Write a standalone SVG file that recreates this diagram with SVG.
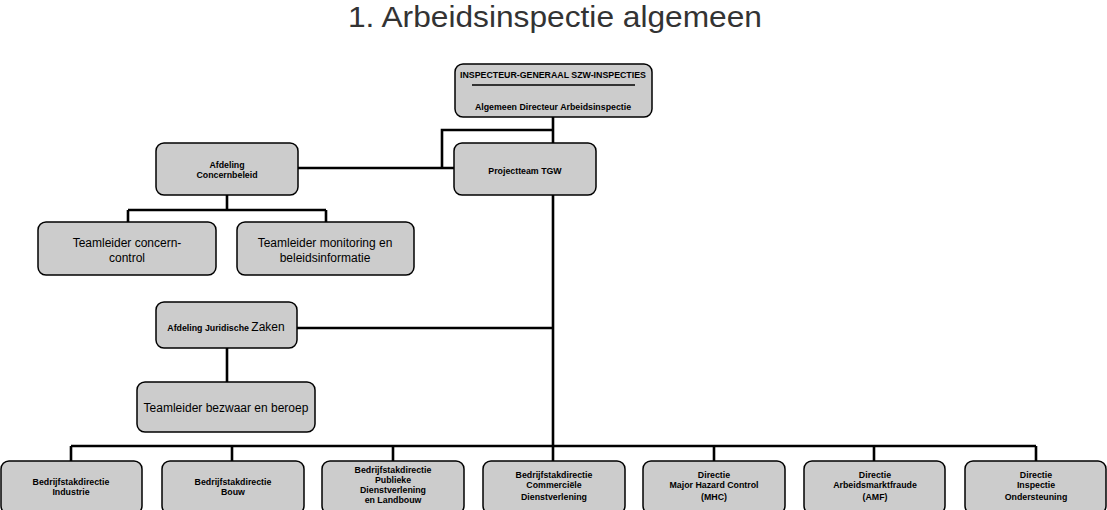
<svg xmlns="http://www.w3.org/2000/svg" width="1107" height="510" viewBox="0 0 1107 510">
<style>
.box{fill:#cccccc;stroke:#000;stroke-width:1.5}
.conn{fill:none;stroke:#000;stroke-width:2.6}
.s{font-family:"Liberation Sans",Arial,sans-serif;font-weight:bold;font-size:8.8px;fill:#000;text-anchor:middle}
.m{font-family:"Liberation Sans",Arial,sans-serif;font-size:12px;fill:#000;text-anchor:middle}
.title{font-family:"Liberation Sans",Arial,sans-serif;font-size:30px;fill:#333;text-anchor:middle}
</style>
<rect width="1107" height="510" fill="#fff"/>
<text class="title" x="555" y="27" textLength="414" lengthAdjust="spacingAndGlyphs">1. Arbeidsinspectie algemeen</text>
<g id="connectors">
<path class="conn" d="M553,117 V143 M553,130 H442 V168 M298,168 H454"/>
<path class="conn" d="M227,195 V210 M128,210 H326 M128,210 V222 M326,210 V222"/>
<path class="conn" d="M553,195 V446 M297,328 H553 M227,348 V382"/>
<path class="conn" d="M71,446 H1036 M71,446 V461 M232,446 V461 M393,446 V461 M553,446 V461 M714,446 V461 M874,446 V461 M1036,446 V461"/>
</g>
<g id="top">
<rect class="box" x="455" y="64" width="197" height="53" rx="8"/>
<text class="s" x="553" y="78">INSPECTEUR-GENERAAL SZW-INSPECTIES</text>
<line x1="472" y1="85" x2="635" y2="85" stroke="#000" stroke-width="1.5"/>
<text class="s" x="553" y="110">Algemeen Directeur Arbeidsinspectie</text>
</g>
<g id="concernbeleid">
<rect class="box" x="156" y="143" width="142" height="52" rx="8"/>
<text class="s" x="227" y="168">Afdeling</text>
<text class="s" x="227" y="178">Concernbeleid</text>
</g>
<g id="projectteam">
<rect class="box" x="454" y="143" width="142" height="52" rx="8"/>
<text class="s" x="525" y="174">Projectteam TGW</text>
</g>
<g id="tl-concern">
<rect class="box" x="38" y="222" width="178" height="53" rx="8"/>
<text class="m" x="127" y="247">Teamleider concern-</text>
<text class="m" x="127" y="262">control</text>
</g>
<g id="tl-monitoring">
<rect class="box" x="237" y="222" width="177" height="53" rx="8"/>
<text class="m" x="325" y="247">Teamleider monitoring en</text>
<text class="m" x="325" y="262">beleidsinformatie</text>
</g>
<g id="juridisch">
<rect class="box" x="156" y="302" width="141" height="46" rx="8"/>
<text class="s" x="226" y="331">Afdeling Juridische <tspan style="font-weight:normal;font-size:12px">Zaken</tspan></text>
</g>
<g id="tl-bezwaar">
<rect class="box" x="137" y="382" width="178" height="50" rx="8"/>
<text class="m" x="226" y="412">Teamleider bezwaar en beroep</text>
</g>
<g id="b1">
<rect class="box" x="1" y="461" width="141" height="53" rx="8"/>
<text class="s" x="71" y="485">Bedrijfstakdirectie</text>
<text class="s" x="71" y="495">Industrie</text>
</g>
<g id="b2">
<rect class="box" x="162" y="461" width="142" height="53" rx="8"/>
<text class="s" x="233" y="485">Bedrijfstakdirectie</text>
<text class="s" x="233" y="495">Bouw</text>
</g>
<g id="b3">
<rect class="box" x="322" y="461" width="142" height="53" rx="8"/>
<text class="s" x="393" y="473">Bedrijfstakdirectie</text>
<text class="s" x="393" y="483">Publieke</text>
<text class="s" x="393" y="493">Dienstverlening</text>
<text class="s" x="393" y="503">en Landbouw</text>
</g>
<g id="b4">
<rect class="box" x="483" y="461" width="142" height="53" rx="8"/>
<text class="s" x="554" y="478">Bedrijfstakdirectie</text>
<text class="s" x="554" y="488">Commerciële</text>
<text class="s" x="554" y="500">Dienstverlening</text>
</g>
<g id="b5">
<rect class="box" x="643" y="461" width="142" height="53" rx="8"/>
<text class="s" x="714" y="478">Directie</text>
<text class="s" x="714" y="488">Major Hazard Control</text>
<text class="s" x="714" y="500">(MHC)</text>
</g>
<g id="b6">
<rect class="box" x="804" y="461" width="141" height="53" rx="8"/>
<text class="s" x="875" y="478">Directie</text>
<text class="s" x="875" y="488">Arbeidsmarktfraude</text>
<text class="s" x="875" y="500">(AMF)</text>
</g>
<g id="b7">
<rect class="box" x="965" y="461" width="141" height="53" rx="8"/>
<text class="s" x="1036" y="478">Directie</text>
<text class="s" x="1036" y="488">Inspectie</text>
<text class="s" x="1036" y="500">Ondersteuning</text>
</g>
</svg>
